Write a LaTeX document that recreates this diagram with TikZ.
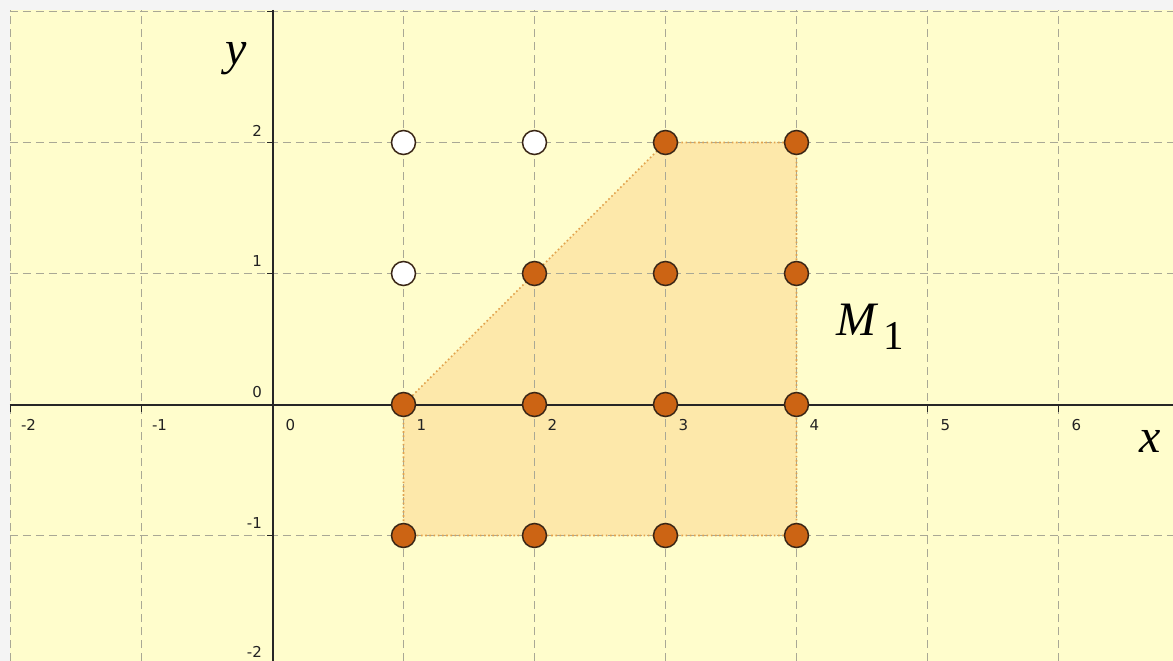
\documentclass[tikz,border=0pt]{standalone}
\usepackage{fontspec}
\setmainfont{Liberation Serif}
\newfontfamily\ticksf{DejaVu Sans}
\definecolor{margingray}{HTML}{F4F4F4}
\definecolor{bgyellow}{HTML}{FFFDCC}
\definecolor{polyfill}{HTML}{FDE8AA}
\definecolor{polyedge}{HTML}{E2A24C}
\definecolor{gridcol}{HTML}{A9A895}
\definecolor{ptfill}{HTML}{CC6414}
\definecolor{ptedge}{HTML}{3A2616}
\definecolor{ticktext}{HTML}{222222}
\tikzset{
  gridline/.style={draw=gridcol, line width=1pt, dash pattern=on 8pt off 5pt},
  axisline/.style={draw=black!85, line width=2pt},
  tickline/.style={draw=black!85, line width=1.5pt},
  polyborder/.style={draw=polyedge, line width=1.6pt, dash pattern=on 1.6pt off 2.6pt},
  ptdot/.style={circle, minimum size=24pt, inner sep=0pt, fill=ptfill, draw=ptedge, line width=1.5pt},
  ptopen/.style={circle, minimum size=24pt, inner sep=0pt, fill=white, draw=ptedge, line width=1.5pt},
  xlab/.style={anchor=center, inner sep=0pt, text=ticktext, font=\ticksf\fontsize{15}{16}\selectfont},
  ylab/.style={anchor=east, inner sep=0pt, text=ticktext, font=\ticksf\fontsize{15}{16}\selectfont},
  biglab/.style={inner sep=0pt, font=\fontsize{48}{50}\selectfont\itshape}
}
\begin{document}
\begin{tikzpicture}[x=131pt,y=131pt]
\useasboundingbox (-2.0802,-1.9580) rectangle (6.8740,3.0878);
\fill[margingray] (-2.0802,-1.9580) rectangle (6.8740,3.0878);
\fill[bgyellow] (-2.004,-1.9580) rectangle (6.8740,3.0115);
% polygon fill
\fill[polyfill] (1,0) -- (3,2) -- (4,2) -- (4,-1) -- (1,-1) -- cycle;
% grid
\foreach \i in {-2,...,6} \draw[gridline] (\i,-1.958) -- (\i,3.0115);
\foreach \j in {-1,...,3} \draw[gridline] (-2.004,\j) -- (6.874,\j);
% polygon edges
\draw[polyborder] (1,0) -- (3,2) -- (4,2) -- (4,-1) -- (1,-1) -- cycle;
% axes
\draw[axisline] (-2.004,0) -- (6.874,0);
\draw[axisline] (0,3.0115) -- (0,-1.958);
\foreach \i in {-2,...,6} \draw[tickline] (\i,0) -- ([yshift=-7pt]\i,0);
\foreach \j in {-1,...,3} \draw[tickline] (0,\j) -- ([xshift=-6pt]0,\j);
% tick labels
\foreach \i/\t in {-2/-2,-1/-1,0/0,1/1,2/2,3/3,4/4,5/5,6/6}
  \node[xlab] (xl\i) at ([xshift=18pt,yshift=-20.5pt]\i,0) {\t};
\foreach \j/\t in {-1/-1,0/0,1/1,2/2}
  \node[ylab] (yl\j) at ([xshift=-10.5pt,yshift=12pt]0,\j) {\t};
\node[ylab] (yl-2) at ([xshift=-10.5pt,yshift=15pt]0,-2) {-2};
% big labels
\node[biglab, anchor=base] (ylabel) at (-0.2786,2.5916) {y};
\node[biglab, anchor=base] (xlabel) at (6.698,-0.3626) {x};
\node[anchor=base west, inner sep=0pt, font=\fontsize{48}{50}\selectfont] (mlabel) at (4.3015,0.5305)
  {\textit{M}\hspace{5pt}\raisebox{-14pt}{\fontsize{41}{42}\selectfont 1}};
% points
\node[ptopen] (p12) at (1,2) {};
\node[ptopen] (p22) at (2,2) {};
\node[ptopen] (p11) at (1,1) {};
\node[ptdot] (p32) at (3,2) {};
\node[ptdot] (p42) at (4,2) {};
\node[ptdot] (p21) at (2,1) {};
\node[ptdot] (p31) at (3,1) {};
\node[ptdot] (p41) at (4,1) {};
\node[ptdot] (p10) at (1,0) {};
\node[ptdot] (p20) at (2,0) {};
\node[ptdot] (p30) at (3,0) {};
\node[ptdot] (p40) at (4,0) {};
\node[ptdot] (p1m) at (1,-1) {};
\node[ptdot] (p2m) at (2,-1) {};
\node[ptdot] (p3m) at (3,-1) {};
\node[ptdot] (p4m) at (4,-1) {};
\end{tikzpicture}
\end{document}
